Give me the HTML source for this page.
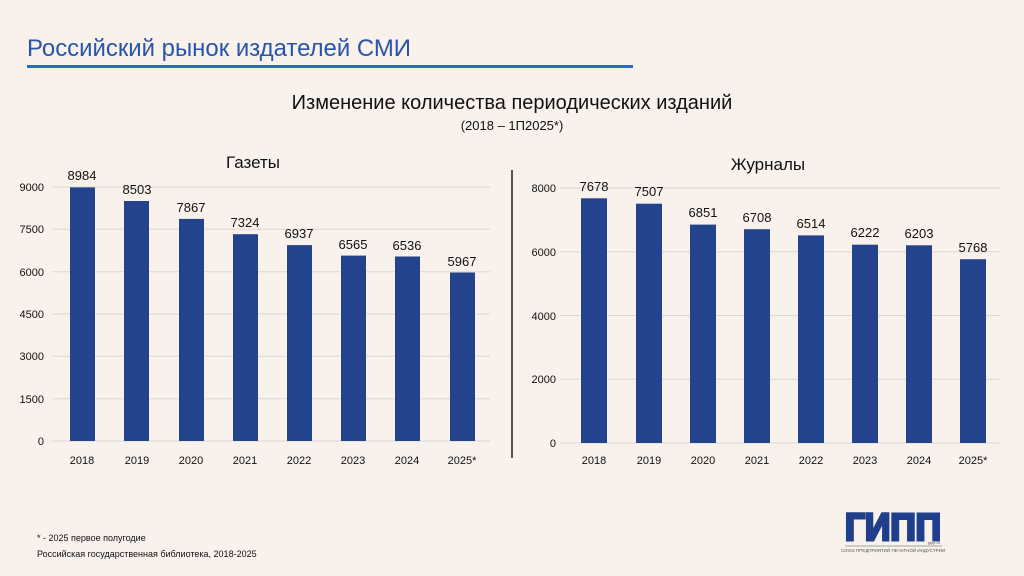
<!DOCTYPE html>
<html><head><meta charset="utf-8"><style>
html,body{margin:0;padding:0;background:#f8f1ec;width:1024px;height:576px;overflow:hidden}
svg{display:block;font-family:"Liberation Sans","DejaVu Sans",sans-serif}
</style></head><body>
<svg width="1024" height="576" viewBox="0 0 1024 576">
<rect width="1024" height="576" fill="#f8f1ec"/>
<text x="27" y="56" font-size="24" fill="#2855a8" textLength="384" lengthAdjust="spacingAndGlyphs">Российский рынок издателей СМИ</text>
<rect x="27" y="65" width="606" height="3" fill="#2a6cc4"/>
<text x="512" y="109" font-size="20" text-anchor="middle" fill="#111">Изменение количества периодических изданий</text>
<text x="512" y="130" font-size="13" text-anchor="middle" fill="#111">(2018 – 1П2025*)</text>
<text x="253" y="168" font-size="17" text-anchor="middle" fill="#111">Газеты</text>
<text x="768" y="170" font-size="17" text-anchor="middle" fill="#111">Журналы</text>
<line x1="512" y1="170" x2="512" y2="458" stroke="#555" stroke-width="2"/>
<g stroke="#dcd8d4" stroke-width="1">
<line x1="52" y1="187" x2="490" y2="187"/><line x1="52" y1="229.3" x2="490" y2="229.3"/><line x1="52" y1="271.7" x2="490" y2="271.7"/><line x1="52" y1="314" x2="490" y2="314"/><line x1="52" y1="356.3" x2="490" y2="356.3"/><line x1="52" y1="398.7" x2="490" y2="398.7"/><line x1="52" y1="441" x2="490" y2="441"/>
<line x1="560" y1="188" x2="1000" y2="188"/><line x1="560" y1="251.75" x2="1000" y2="251.75"/><line x1="560" y1="315.5" x2="1000" y2="315.5"/><line x1="560" y1="379.25" x2="1000" y2="379.25"/><line x1="560" y1="443" x2="1000" y2="443"/>
</g>
<g font-size="11" fill="#111" text-anchor="end">
<text x="44" y="191">9000</text><text x="44" y="233">7500</text><text x="44" y="276">6000</text><text x="44" y="318">4500</text><text x="44" y="360">3000</text><text x="44" y="403">1500</text><text x="44" y="445">0</text>
<text x="556" y="192">8000</text><text x="556" y="256">6000</text><text x="556" y="320">4000</text><text x="556" y="383">2000</text><text x="556" y="447">0</text>
</g>
<g fill="#23438c">
<rect x="70" y="187.4" width="25" height="253.6"/>
<rect x="124" y="201" width="25" height="240"/>
<rect x="179" y="218.9" width="25" height="222.1"/>
<rect x="233" y="234.2" width="25" height="206.8"/>
<rect x="287" y="245.1" width="25" height="195.9"/>
<rect x="341" y="255.6" width="25" height="185.4"/>
<rect x="395" y="256.5" width="25" height="184.5"/>
<rect x="450" y="272.5" width="25" height="168.5"/>
<rect x="581" y="198.3" width="26" height="244.7"/>
<rect x="636" y="203.7" width="26" height="239.3"/>
<rect x="690" y="224.6" width="26" height="218.4"/>
<rect x="744" y="229.2" width="26" height="213.8"/>
<rect x="798" y="235.4" width="26" height="207.6"/>
<rect x="852" y="244.7" width="26" height="198.3"/>
<rect x="906" y="245.3" width="26" height="197.7"/>
<rect x="960" y="259.2" width="26" height="183.8"/>
</g>
<g font-size="13" fill="#111" text-anchor="middle">
<text x="82" y="180">8984</text><text x="137" y="194">8503</text><text x="191" y="212">7867</text><text x="245" y="227">7324</text><text x="299" y="238">6937</text><text x="353" y="249">6565</text><text x="407" y="250">6536</text><text x="462" y="266">5967</text>
<text x="594" y="191">7678</text><text x="649" y="196">7507</text><text x="703" y="217">6851</text><text x="757" y="222">6708</text><text x="811" y="228">6514</text><text x="865" y="237">6222</text><text x="919" y="238">6203</text><text x="973" y="252">5768</text>
</g>
<g font-size="11" fill="#111" text-anchor="middle">
<text x="82" y="464">2018</text><text x="137" y="464">2019</text><text x="191" y="464">2020</text><text x="245" y="464">2021</text><text x="299" y="464">2022</text><text x="353" y="464">2023</text><text x="407" y="464">2024</text><text x="462" y="464">2025*</text>
<text x="594" y="464">2018</text><text x="649" y="464">2019</text><text x="703" y="464">2020</text><text x="757" y="464">2021</text><text x="811" y="464">2022</text><text x="865" y="464">2023</text><text x="919" y="464">2024</text><text x="973" y="464">2025*</text>
</g>
<text x="37" y="541" font-size="9" fill="#111">* - 2025 первое полугодие</text>
<text x="37" y="557" font-size="9" fill="#111">Российская государственная библиотека, 2018-2025</text>
<text x="893" y="540" font-size="38" font-weight="bold" text-anchor="middle" fill="#1f3e8c" stroke="#1f3e8c" stroke-width="3" textLength="96" lengthAdjust="spacingAndGlyphs">ГИПП</text>
<text x="940" y="544" font-size="4" text-anchor="end" fill="#555">gipp.ru</text>
<line x1="845" y1="546" x2="942" y2="546" stroke="#888" stroke-width="0.7"/>
<text x="893" y="552" font-size="4.5" text-anchor="middle" fill="#555">СОЮЗ ПРЕДПРИЯТИЙ ПЕЧАТНОЙ ИНДУСТРИИ</text>
</svg>
</body></html>
